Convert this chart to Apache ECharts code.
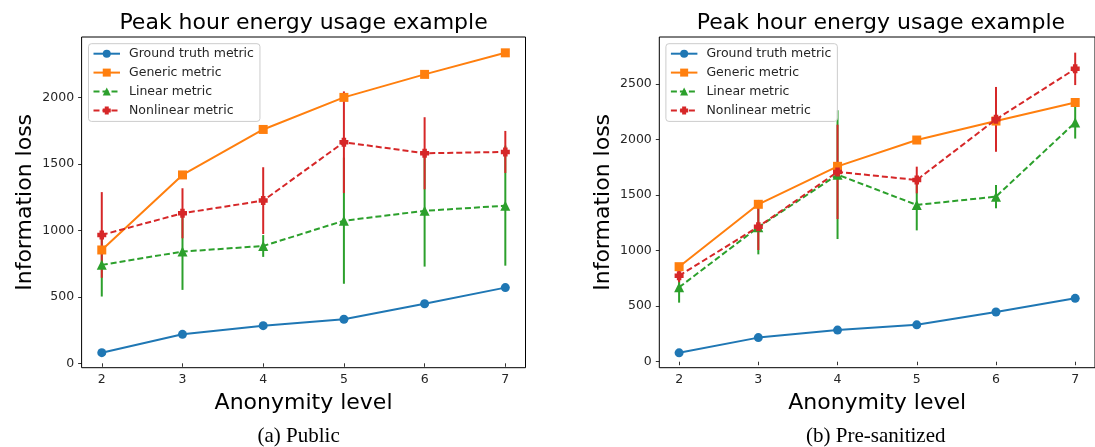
<!DOCTYPE html>
<html>
<head>
<meta charset="utf-8">
<script src="https://cdn.jsdelivr.net/npm/echarts@6/dist/echarts.min.js"></script>
<style>
html,body{margin:0;padding:0;background:#fff;}
#chart{width:1095px;height:447px;}
</style>
</head>
<body>
<div id="chart"></div>
<script>
// ---- data ----
const levels = [2, 3, 4, 5, 6, 7];
const xTicks = [2, 3, 4, 5, 6, 7];
const yTicksA = [0, 500, 1000, 1500, 2000];
const yTicksB = [0, 500, 1000, 1500, 2000, 2500];

// (a) Public
const groundA = [80, 218, 283, 331, 448, 569];
const genericA = [852, 1416, 1758, 1999, 2172, 2334];
const linearA = [740, 840, 882, 1072, 1146, 1185];
const linearErrA = [238, 288, 82, 474, 419, 451];
const nonlinA = [965, 1128, 1223, 1662, 1579, 1589];
const nonlinErrA = [322, 188, 251, 382, 271, 158];

// (b) Pre-sanitized
const groundB = [80, 217, 285, 332, 448, 571];
const genericB = [856, 1418, 1760, 1997, 2168, 2335];
const linearB = [670, 1212, 1685, 1412, 1487, 2155];
const linearErrB = [138, 245, 580, 229, 105, 145];
const nonlinB = [775, 1216, 1710, 1637, 2183, 2638];
const nonlinErrB = [60, 210, 425, 120, 292, 146];

const titleText = 'Peak hour energy usage example';
const xName = 'Anonymity level';
const yName = 'Information loss';
const captions = ['(a) Public', '(b) Pre-sanitized'];
const seriesNames = ['Ground truth metric', 'Generic metric', 'Linear metric', 'Nonlinear metric'];

// ---- styling ----
const C = {blue: '#1f77b4', orange: '#ff7f0e', green: '#2ca02c', red: '#d62728'};
const FONT = 'DejaVu Sans';
const plusPath = 'path://M2.5,0H7.5V2.5H10V7.5H7.5V10H2.5V7.5H0V2.5H2.5Z';

const grids = [
  {left: 81.6, top: 37, width: 443.9, height: 330.7},
  {left: 659.3, top: 37, width: 443.3, height: 330.7}
];
const yRanges = [[-33, 2453], [-54, 2925]];
const yTicks = [yTicksA, yTicksB];

function pairs(vals) { return levels.map((x, i) => [x, vals[i]]); }
function errData(vals, errs) { return levels.map((x, i) => [x, vals[i] - errs[i], vals[i] + errs[i]]); }

function errSeries(idx, vals, errs, color, name) {
  return {
    type: 'custom', name: name, xAxisIndex: idx, yAxisIndex: idx, z: 1,
    encode: {x: 0, y: [1, 2]},
    data: errData(vals, errs),
    silent: true,
    renderItem: function (params, api) {
      const x = api.value(0);
      const p1 = api.coord([x, api.value(1)]);
      const p2 = api.coord([x, api.value(2)]);
      return {type: 'line', shape: {x1: p1[0], y1: p1[1], x2: p2[0], y2: p2[1]},
              style: {stroke: color, lineWidth: 2}};
    }
  };
}
function lineSeries(idx, name, vals, color, symbol, dashed, z) {
  return {
    type: 'line', name: name, xAxisIndex: idx, yAxisIndex: idx, z: z,
    data: pairs(vals), symbol: symbol, symbolSize: symbol === 'triangle' ? 10 : 9,
    showAllSymbol: true, animation: false, silent: true,
    lineStyle: {color: color, width: 2, type: dashed ? [6, 3] : 'solid'},
    itemStyle: {color: color, borderWidth: 0}
  };
}

const series = [];
[[groundA, genericA, linearA, linearErrA, nonlinA, nonlinErrA],
 [groundB, genericB, linearB, linearErrB, nonlinB, nonlinErrB]].forEach((d, i) => {
  series.push(errSeries(i, d[2], d[3], C.green, 'linErr' + i));
  series.push(errSeries(i, d[4], d[5], C.red, 'nonErr' + i));
  series.push(lineSeries(i, seriesNames[0], d[0], C.blue, 'circle', false, 2));
  series.push(lineSeries(i, seriesNames[1], d[1], C.orange, 'rect', false, 3));
  series.push(lineSeries(i, seriesNames[2], d[2], C.green, 'triangle', true, 4));
  series.push(lineSeries(i, seriesNames[3], d[4], C.red, plusPath, true, 5));
});

const plain = v => String(Math.round(v));

const xAxes = grids.map((g, i) => ({
  type: 'value', gridIndex: i, min: 1.75, max: 7.25,
  name: xName, nameLocation: 'middle', nameGap: 25,
  nameTextStyle: {fontFamily: FONT, fontSize: 22, color: '#000'},
  axisLine: {show: false},
  splitLine: {show: false},
  axisTick: {show: true, length: 3.5, lineStyle: {color: '#000', width: 0.8}, customValues: xTicks},
  axisLabel: {fontFamily: FONT, fontSize: 12.5, color: '#262626', margin: 6, customValues: xTicks, formatter: plain}
}));
const yAxes = grids.map((g, i) => ({
  type: 'value', gridIndex: i, min: yRanges[i][0], max: yRanges[i][1],
  name: yName, nameLocation: 'middle', nameGap: 45,
  nameTextStyle: {fontFamily: FONT, fontSize: 22, color: '#000'},
  axisLine: {show: false},
  splitLine: {show: false},
  axisTick: {show: true, length: 3.5, lineStyle: {color: '#000', width: 0.8}, customValues: yTicks[i]},
  axisLabel: {fontFamily: FONT, fontSize: 12.5, color: '#262626', margin: 7.5, customValues: yTicks[i], formatter: plain}
}));

const legends = [88.5, 665.9].map(l => ({
  left: l, top: 43.7, orient: 'vertical', selectedMode: false,
  data: seriesNames,
  itemWidth: 26.5, itemHeight: 10, itemGap: 4.9,
  padding: [3, 6, 4, 4],
  backgroundColor: 'rgba(255,255,255,0.8)', borderColor: '#cccccc', borderWidth: 1, borderRadius: 3,
  textStyle: {fontFamily: FONT, fontSize: 12.5, color: '#262626', lineHeight: 14, padding: [0, 0, 0, 4]}
}));

const graphics = [];
grids.forEach((g, i) => {
  const cx = g.left + g.width / 2;
  graphics.push({type: 'text', x: cx, y: 23, silent: true,
    style: {text: titleText, fontFamily: FONT, fontSize: 22, fill: '#000', align: 'center', verticalAlign: 'middle'}});
});
graphics.push({type: 'text', x: 298.6, y: 436, silent: true,
  style: {text: captions[0], fontFamily: 'Liberation Serif', fontSize: 21, fill: '#000', align: 'center', verticalAlign: 'middle'}});
graphics.push({type: 'text', x: 875.8, y: 436, silent: true,
  style: {text: captions[1], fontFamily: 'Liberation Serif', fontSize: 21, fill: '#000', align: 'center', verticalAlign: 'middle'}});

const chart = echarts.init(document.getElementById('chart'), null, {renderer: 'canvas'});
chart.setOption({
  animation: false,
  backgroundColor: '#fff',
  grid: grids.map(g => Object.assign({show: true, borderColor: '#000', borderWidth: 1, backgroundColor: 'transparent'}, g)),
  xAxis: xAxes,
  yAxis: yAxes,
  legend: legends,
  graphic: graphics,
  series: series
});
</script>
</body>
</html>
